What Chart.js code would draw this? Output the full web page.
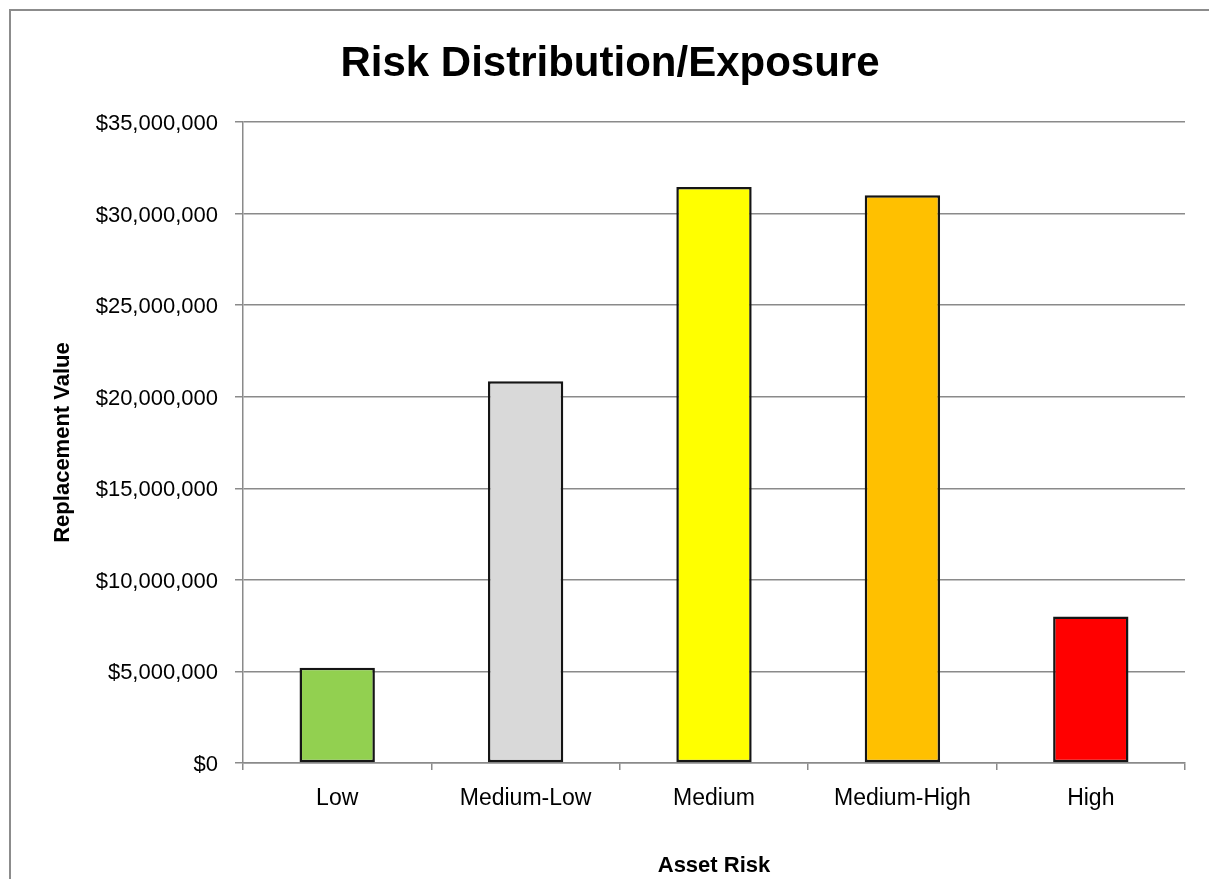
<!DOCTYPE html>
<html>
<head>
<meta charset="utf-8">
<title>Risk Distribution/Exposure</title>
<script src="https://cdn.jsdelivr.net/npm/chart.js@4.4.1/dist/chart.umd.min.js"></script>
<style>
    html, body { margin: 0; padding: 0; background: #ffffff; }
    #riskChart { display: block; }
</style>
</head>
<body>
<canvas id="riskChart" width="1209" height="879"></canvas>
<script>
    "use strict";

    // replacement value per asset risk band
    const riskLabels = ['Low', 'Medium-Low', 'Medium', 'Medium-High', 'High'];
    const replacementValues = [5200000, 20850000, 31450000, 31000000, 8000000];
    const barColors = ['#92D050', '#D9D9D9', '#FFFF00', '#FFC000', '#FF0000'];
    const yMax = 35000000;
    const yStep = 5000000;

    const FONT = "'Liberation Sans', Arial, sans-serif";
    const GRID = '#8a8a8a';

    // grey frame round the whole chart
    const frame = {
        id: 'frame',
        beforeDraw(chart) {
            const ctx = chart.ctx;
            ctx.save();
            ctx.fillStyle = '#ffffff';
            ctx.fillRect(0, 0, chart.width, chart.height);
            ctx.strokeStyle = '#8c8c8c';
            ctx.lineWidth = 2;
            ctx.strokeRect(10, 10, chart.width + 40, chart.height + 40);
            ctx.restore();
        },
    };

    function money(v) {
        return '$' + Number(v).toLocaleString('en-US');
    }

    new Chart(document.getElementById('riskChart').getContext('2d'), {
        type: 'bar',
        data: {
            labels: riskLabels,
            datasets: [{
                label: 'Replacement Value',
                data: replacementValues,
                backgroundColor: barColors,
                borderColor: '#151515',
                borderWidth: 2.5,
                borderSkipped: false,
                barPercentage: 0.4,
                categoryPercentage: 1.0,
            }],
        },
        options: {
            responsive: false,
            animation: false,
            devicePixelRatio: 1,
            layout: { padding: { left: 35, right: 24, top: 0, bottom: 0 } },
            plugins: {
                legend: { display: false },
                tooltip: { enabled: false },
                title: {
                    display: true,
                    text: 'Risk Distribution/Exposure',
                    color: '#000000',
                    font: { family: FONT, size: 42, weight: 'bold', lineHeight: 1.2 },
                    padding: { top: 39, bottom: 32.6 },
                },
            },
            scales: {
                x: {
                    afterFit(scale) { scale.height = 116; },
                    grid: {
                        display: true,
                        offset: true,
                        drawOnChartArea: false,
                        drawTicks: true,
                        tickLength: 7,
                        color: GRID,
                        lineWidth: 1.5,
                    },
                    border: { display: true, color: GRID, width: 1.5 },
                    ticks: {
                        color: '#000000',
                        padding: 15,
                        maxRotation: 0,
                        font: { family: FONT, size: 23 },
                    },
                    title: {
                        display: true,
                        text: 'Asset Risk',
                        color: '#000000',
                        font: { family: FONT, size: 22, weight: 'bold', lineHeight: 1.2 },
                        padding: { top: 0, bottom: 0 },
                    },
                },
                y: {
                    min: 0,
                    max: yMax,
                    afterFit(scale) { scale.width = 208; },
                    grid: {
                        color: GRID,
                        lineWidth: 1.5,
                        drawTicks: true,
                        tickLength: 8,
                    },
                    border: { display: true, color: GRID, width: 1.5 },
                    ticks: {
                        stepSize: yStep,
                        color: '#000000',
                        padding: 17,
                        labelOffset: 2,
                        font: { family: FONT, size: 22 },
                        callback: money,
                    },
                    title: {
                        display: true,
                        text: 'Replacement Value',
                        color: '#000000',
                        font: { family: FONT, size: 22, weight: 'bold', lineHeight: 1.2 },
                        padding: { top: 14.5, bottom: 0 },
                    },
                },
            },
        },
        plugins: [frame],
    });
</script>
</body>
</html>
